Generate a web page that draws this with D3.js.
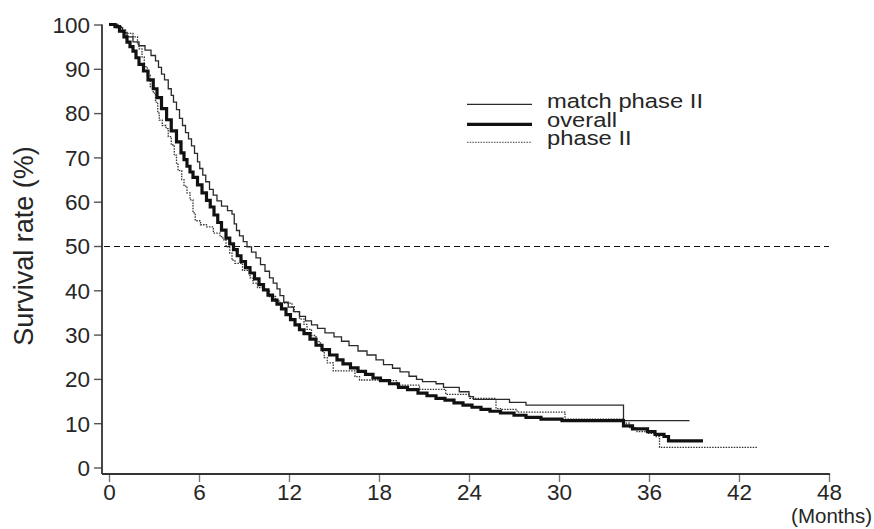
<!DOCTYPE html>
<html>
<head>
<meta charset="utf-8">
<script src="https://cdn.jsdelivr.net/npm/d3@7"></script>
<style>
  html, body { margin: 0; padding: 0; background: #fff; }
  svg { display: block; font-family: "Liberation Sans", Arial, sans-serif; }
</style>
</head>
<body>
<div id="chart"></div>
<script>
// Kaplan-Meier steps: [months, survival %]
const overallSteps = [
  [0,100],[0.4,99.5],[0.7,98.5],[1.0,97.2],[1.2,96],[1.4,95],[1.6,94],[1.8,92.5],[2.0,91],
  [2.3,89.5],[2.6,87.5],[2.95,85.5],[3.2,83.5],[3.5,81],[3.84,78.5],[4.15,76],[4.5,73.5],
  [4.8,71],[5.0,69.5],[5.2,68],[5.4,66.7],[5.6,65.5],[5.9,63.8],[6.2,62],[6.5,60.3],
  [6.75,58.8],[7.0,57],[7.25,55.3],[7.5,53.6],[7.8,51.8],[8.05,50.5],[8.3,49.2],[8.55,47.8],
  [8.8,46.5],[9.1,45.1],[9.4,43.9],[9.7,42.6],[10.0,41.3],[10.3,40.1],[10.6,38.9],[10.9,37.8],
  [11.2,36.9],[11.5,35.8],[11.8,34.5],[12.1,33.4],[12.4,32.2],[12.7,31.1],[13.0,30.2],
  [13.4,29.0],[13.8,27.6],[14.2,26.6],[14.7,25.4],[15.2,24.3],[15.6,23.4],[16.1,22.5],
  [16.6,21.7],[17.1,21],[17.6,20.2],[18.1,19.6],[18.7,18.9],[19.3,18.1],[19.9,17.6],
  [20.6,16.8],[21.2,16.2],[21.8,15.6],[22.4,15.2],[23.0,14.6],[23.6,14.1],[24.2,13.6],
  [24.8,13.1],[25.4,12.7],[26.1,12.3],[27.0,11.8],[27.8,11.3],[28.8,10.9],[30.2,10.56],
  [34.3,9.4],[34.9,8.7],[35.9,8.1],[36.4,7.5],[37.0,7.0],[37.3,6.0],[39.6,6.0]
];

const matchSteps = [
  [0,100],[0.5,99.3],[0.9,98.2],[1.2,97.2],[1.6,96.1],[2.0,95.2],[2.4,94.2],[2.8,93],
  [3.1,91.8],[3.3,90.3],[3.5,88.8],[3.7,87.5],[3.95,85.5],[4.15,84],[4.3,82.5],[4.5,80.8],
  [4.7,78.8],[4.9,77.2],[5.1,75.6],[5.3,74.2],[5.5,72.6],[5.7,70.9],[5.9,69],[6.05,67.5],
  [6.25,66],[6.45,64.5],[6.7,62.8],[6.95,61.5],[7.2,60.2],[7.5,59],[7.9,58],[8.2,57.2],
  [8.35,55],[8.5,53.5],[8.7,52.3],[8.95,51],[9.2,49.8],[9.5,48.6],[9.8,47.3],[10.1,45.8],
  [10.4,44.3],[10.7,42.8],[10.95,41.6],[11.2,40.3],[11.4,38.8],[11.65,37.3],[11.95,36.2],
  [12.3,35.2],[12.7,34.1],[13.1,33.1],[13.5,32.2],[13.9,31.4],[14.4,30.4],[15.0,29.5],
  [15.5,28.5],[16.0,27.5],[16.6,26.3],[17.2,25.4],[17.8,24.3],[18.3,23.2],[18.9,22.4],
  [19.4,21.6],[20.0,20.6],[20.5,19.9],[20.9,19.4],[21.8,18.9],[22.3,18.1],[23.35,17.1],
  [24.0,16.0],[24.3,15.4],[26.7,14.7],[27.8,14.1],[34.3,10.56],[38.7,10.56]
];

const phase2Steps = [
  [0,100],[0.6,99.5],[0.9,98.7],[1.1,98],[1.6,97.2],[1.9,95.5],[2.0,94.5],[2.2,92.7],
  [2.35,90.5],[2.55,88.5],[2.75,86],[2.95,84.5],[3.1,82.5],[3.25,80],[3.35,78.4],
  [3.55,77.2],[3.8,76.5],[3.95,74.7],[4.15,72.8],[4.35,70.5],[4.5,68.5],[4.6,67],
  [4.85,65],[5.0,63.5],[5.2,62],[5.4,60.4],[5.6,57.5],[5.75,55.7],[6.1,54.8],[6.5,54.3],
  [6.96,52.9],[7.4,52.1],[7.6,51.4],[7.8,49.8],[8.05,48.4],[8.2,46.8],[8.4,46.1],
  [8.9,44.5],[9.4,42.8],[9.6,41.6],[9.9,40.6],[10.3,40.0],[10.7,38.6],[11.1,37.6],
  [11.4,37.1],[12.2,36.3],[12.35,35.2],[12.7,33.5],[13.0,32.3],[13.2,31.2],[13.5,29.8],
  [13.8,28.4],[14.1,27.2],[14.25,26.2],[14.35,24.8],[14.55,23.6],[14.95,21.8],[16.4,20.5],
  [16.7,19.75],[18.5,19.6],[19.2,18.6],[20.7,17.65],[22.45,16.5],[24.05,15.6],[25.8,13.3],
  [26.1,13.1],[27.2,12.5],[30.4,10.9],[34.3,10.0],[34.7,9.0],[35.2,8.1],[35.9,7.7],
  [36.4,7.0],[36.7,4.55],[43.2,4.55]
];

const xTicks = [0, 6, 12, 18, 24, 30, 36, 42, 48];
const yTicks = [0, 10, 20, 30, 40, 50, 60, 70, 80, 90, 100];
const medianLevel = 50;
const legendLabels = ["match phase II", "overall", "phase II"];

const width = 874, height = 529;
const ink = "#262626";

const svg = d3.select("#chart").append("svg")
  .attr("width", width)
  .attr("height", height)
  .attr("viewBox", [0, 0, width, height]);

const x = d3.scaleLinear().domain([0, 48]).range([109, 829]);
const y = d3.scaleLinear().domain([0, 100]).range([467.5, 24.5]);
const axisX = 102, axisY = 474;

// axes
svg.append("g")
  .attr("transform", `translate(${axisX},0)`)
  .call(d3.axisLeft(y).tickValues(yTicks).tickSize(8).tickPadding(4))
  .call(g => g.select(".domain").remove())
  .call(g => g.selectAll(".tick line").attr("stroke", "#555").attr("stroke-width", 1.4))
  .call(g => g.selectAll(".tick text")
    .attr("fill", ink).attr("font-size", 22.5).attr("font-family", null).attr("dy", "0.35em"));

svg.append("g")
  .attr("transform", `translate(0,${axisY})`)
  .call(d3.axisBottom(x).tickValues(xTicks).tickSize(8).tickPadding(2))
  .call(g => g.select(".domain").remove())
  .call(g => g.selectAll(".tick line").attr("stroke", "#777").attr("stroke-width", 1.4))
  .call(g => g.selectAll(".tick text")
    .attr("fill", ink).attr("font-size", 22.5).attr("font-family", null));

svg.append("line")
  .attr("x1", axisX).attr("x2", axisX)
  .attr("y1", y(100)).attr("y2", axisY)
  .attr("stroke", "#333").attr("stroke-width", 1.8);
svg.append("line")
  .attr("x1", axisX).attr("x2", x(48) + 1)
  .attr("y1", axisY).attr("y2", axisY)
  .attr("stroke", "#333").attr("stroke-width", 1.8);

svg.append("text")
  .attr("x", width - 2)
  .attr("y", 523)
  .attr("text-anchor", "end")
  .attr("font-size", 20.5)
  .attr("fill", ink)
  .text("(Months)");

svg.append("text")
  .attr("transform", `translate(33,${y(50)}) rotate(-90)`)
  .attr("text-anchor", "middle")
  .attr("font-size", 27)
  .attr("fill", ink)
  .text("Survival rate (%)");

// median reference line
const medY = Math.round(y(medianLevel)) + 0.5;
svg.append("line")
  .attr("x1", axisX + 2).attr("x2", x(48))
  .attr("y1", medY).attr("y2", medY)
  .attr("stroke", "#111").attr("stroke-width", 1)
  .attr("stroke-dasharray", "6,4");

// curves
const styles = [
  { data: matchSteps, stroke: "#2a2a2a", width: 1.3, dash: null },
  { data: overallSteps, stroke: "#111", width: 3.2, dash: null },
  { data: phase2Steps, stroke: "#333", width: 1.3, dash: "1.5,1.2" }
];

const line = d3.line()
  .curve(d3.curveStepAfter)
  .x(d => x(d[0]))
  .y(d => y(d[1]));

[styles[2], styles[0], styles[1]].forEach(s => {
  svg.append("path")
    .datum(s.data)
    .attr("fill", "none")
    .attr("stroke", s.stroke)
    .attr("stroke-width", s.width)
    .attr("stroke-dasharray", s.dash)
    .attr("d", line);
});

// legend
const legendRows = [104.3, 124.3, 142.3];
const legendBase = [107.5, 126.8, 144.5];
const legend = svg.append("g");
legendLabels.forEach((label, i) => {
  const s = styles[i];
  legend.append("line")
    .attr("x1", 467).attr("x2", 532)
    .attr("y1", legendRows[i]).attr("y2", legendRows[i])
    .attr("stroke", i === 2 ? "#666" : s.stroke)
    .attr("stroke-width", s.width)
    .attr("stroke-dasharray", s.dash);
  legend.append("text")
    .attr("transform", `translate(547,${legendBase[i]}) scale(1.22,1)`)
    .attr("font-size", 19.5)
    .attr("fill", ink)
    .text(label);
});
</script>
</body>
</html>
